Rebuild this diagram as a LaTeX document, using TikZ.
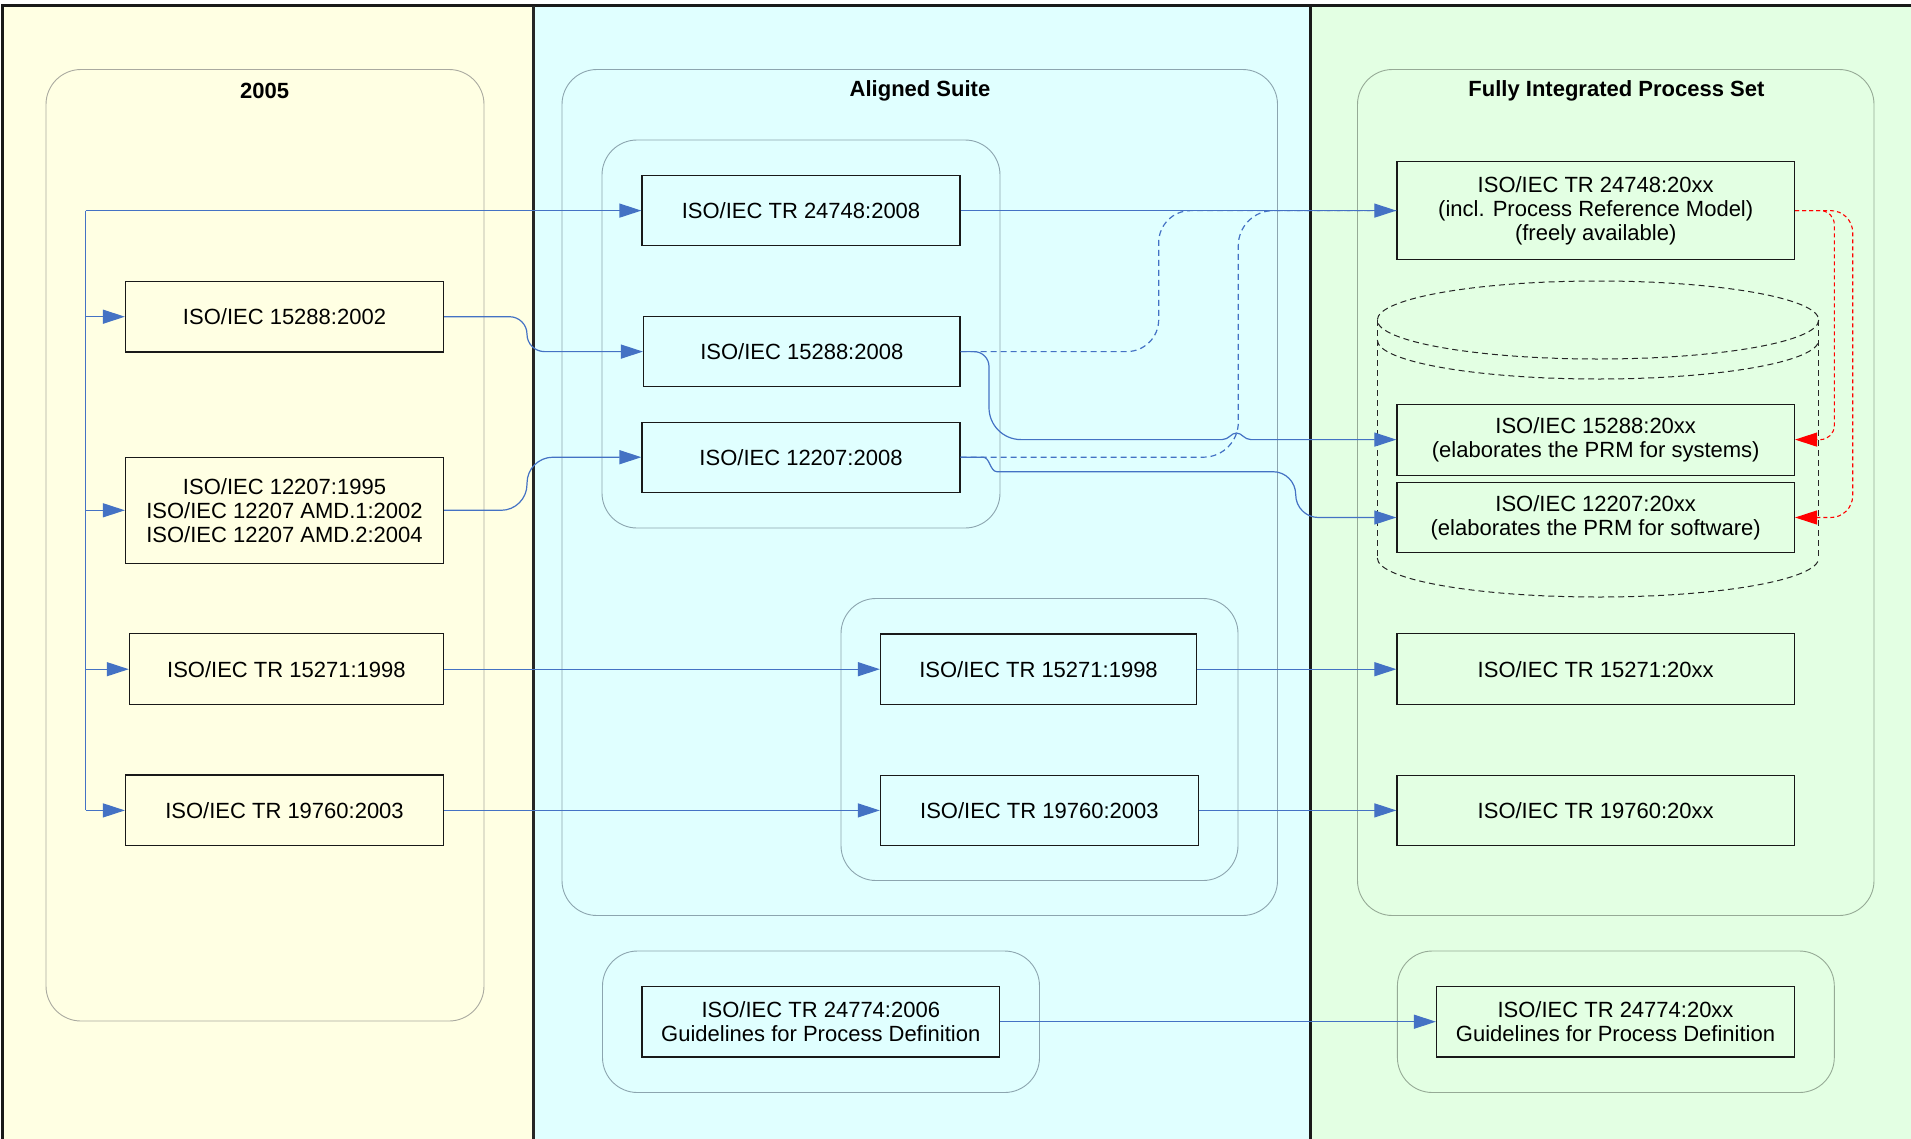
\documentclass[tikz,border=0pt]{standalone}
\usepackage{fontspec}
\setmainfont{Liberation Sans}
\usetikzlibrary{arrows.meta}
\definecolor{pyel}{RGB}{255,255,227}
\definecolor{pcya}{RGB}{224,255,255}
\definecolor{pgrn}{RGB}{227,255,227}
\definecolor{lblue}{RGB}{68,114,196}
\definecolor{cgrayA}{RGB}{170,170,160}
\definecolor{cgrayB}{RGB}{140,165,175}
\definecolor{cgrayC}{RGB}{150,170,150}
\begin{document}
\begin{tikzpicture}[x=1pt,y=-1pt,
  doc/.style={draw=black!90,line width=1.2pt,align=center,inner sep=0pt,font=\fontsize{22}{24}\selectfont},
  grp/.style={line width=0.9pt,rounded corners=35pt},
  ttl/.style={font=\fontsize{22}{24}\selectfont\bfseries,inner sep=0pt},
  conn/.style={draw=lblue,line width=1.2pt},
  arr/.style={conn,-{Triangle[length=22pt,width=14pt]}},
  dconn/.style={conn,dash pattern=on 6pt off 4pt},
  rarr/.style={draw=red,line width=1.1pt,dash pattern=on 4pt off 3pt,-{Triangle[length=22pt,width=14pt]}},
  cyl/.style={draw=black!85,line width=1pt,dash pattern=on 6pt off 4pt}
]
\useasboundingbox (0,0) rectangle (1911,1138);
\fill[white] (0,0) rectangle (1911,1138);
% panels
\fill[pyel] (2.7,5.5) rectangle (533,1140);
\fill[pcya] (533,5.5) rectangle (1310,1140);
\fill[pgrn] (1310,5.5) rectangle (1915,1140);
\draw[black!90,line width=2.6pt] (2.7,1145) -- (2.7,5.5) -- (1915,5.5);
\draw[black!85,line width=3pt] (533,5.5) -- (533,1145);
\draw[black!90,line width=3pt] (1310,5.5) -- (1310,1145);
% containers
\draw[grp,draw=cgrayA] (46,69.5) rectangle (484,1021);
\draw[grp,draw=cgrayB] (562,69.5) rectangle (1277.5,915.5);
\draw[grp,draw=cgrayB] (602,140) rectangle (1000,528);
\draw[grp,draw=cgrayB] (841,598.5) rectangle (1238,880.5);
\draw[grp,draw=cgrayB] (602.5,951) rectangle (1039.5,1092.5);
\draw[grp,draw=cgrayC] (1357.5,69.5) rectangle (1874,915.5);
\draw[grp,draw=cgrayC] (1397.4,951) rectangle (1834.3,1092.5);
% titles
\node[ttl] (t1) at (264.7,91) {2005};
\node[ttl] (t2) at (920,91) {Aligned Suite};
\node[ttl] (t3) at (1616.4,91) {Fully Integrated Process Set};
% cylinder
\draw[cyl] (1598,320) ellipse [x radius=220.7,y radius=39];
\draw[cyl] (1377.3,340) arc[start angle=180,end angle=0,x radius=220.7,y radius=39];
\draw[cyl] (1377.3,320) -- (1377.3,558);
\draw[cyl] (1818.7,320) -- (1818.7,558);
\draw[cyl] (1377.3,558) arc[start angle=180,end angle=0,x radius=220.7,y radius=39];
% left boxes
\node[doc,minimum width=318pt,minimum height=70.5pt] (a1) at (284.5,316.7) {ISO/IEC 15288:2002};
\node[doc,minimum width=318pt,minimum height=106pt] (a2) at (284.5,510.3) {ISO/IEC 12207:1995\\ISO/IEC 12207 AMD.1:2002\\ISO/IEC 12207 AMD.2:2004};
\node[doc,minimum width=314pt,minimum height=71pt] (a3) at (286.4,669.2) {ISO/IEC TR 15271:1998};
\node[doc,minimum width=318pt,minimum height=70.7pt] (a4) at (284.5,810.4) {ISO/IEC TR 19760:2003};
% middle boxes
\node[doc,minimum width=318pt,minimum height=70pt] (m1) at (801,210.6) {ISO/IEC TR 24748:2008};
\node[doc,minimum width=316.5pt,minimum height=70pt] (m2) at (801.8,351.6) {ISO/IEC 15288:2008};
\node[doc,minimum width=318pt,minimum height=70pt] (m3) at (801,457.2) {ISO/IEC 12207:2008};
\node[doc,minimum width=316pt,minimum height=70.5pt] (m4) at (1038.5,669.2) {ISO/IEC TR 15271:1998};
\node[doc,minimum width=318pt,minimum height=70.5pt] (m5) at (1039.4,810.4) {ISO/IEC TR 19760:2003};
\node[doc,minimum width=357.6pt,minimum height=70.6pt] (m6) at (820.8,1021.7) {ISO/IEC TR 24774:2006\\Guidelines for Process Definition};
% right boxes
\node[doc,minimum width=397.5pt,minimum height=98.5pt] (r1) at (1595.7,210.6) {ISO/IEC TR 24748:20xx\\(incl. Process Reference Model)\\(freely available)};
\node[doc,minimum width=397.5pt,minimum height=71pt] (r2) at (1595.7,439.6) {ISO/IEC 15288:20xx\\(elaborates the PRM for systems)};
\node[doc,minimum width=397.5pt,minimum height=70.4pt] (r3) at (1595.7,517.5) {ISO/IEC 12207:20xx\\(elaborates the PRM for software)};
\node[doc,minimum width=397.5pt,minimum height=71pt] (r4) at (1595.7,669.2) {ISO/IEC TR 15271:20xx};
\node[doc,minimum width=397.5pt,minimum height=70.5pt] (r5) at (1595.7,810.4) {ISO/IEC TR 19760:20xx};
\node[doc,minimum width=358pt,minimum height=70.6pt] (r6) at (1615.5,1021.7) {ISO/IEC TR 24774:20xx\\Guidelines for Process Definition};
% feeder
\coordinate (ftop) at (85.7,210.6);
\coordinate (fbot) at (85.7,810.4);
\draw[conn] (ftop) -- (fbot);
\draw[arr] (ftop) -- (m1.west);
\draw[arr] (a1.west -| ftop) -- (a1.west);
\draw[arr] (a2.west -| ftop) -- (a2.west);
\draw[arr] (a3.west -| ftop) -- (a3.west);
\draw[arr] (fbot) -- (a4.west);
% left to middle
\draw[arr] (a1.east) -- (509.5,316.7) .. controls (519.1,316.7) and (527,324.5) .. (527,334.15)
  .. controls (527,343.8) and (534.8,351.6) .. (544.5,351.6) -- (m2.west);
\draw[arr] (a2.east) -- (501,510.3) .. controls (515.4,510.3) and (527,498.7) .. (527,484.3)
  -- (527,483.2) .. controls (527,468.8) and (538.6,457.2) .. (553,457.2) -- (m3.west);
\draw[arr] (a3.east) -- (m4.west);
\draw[arr] (a4.east) -- (m5.west);
% middle to right
\draw[dconn] (m2.east) -- (1126.7,351.6) .. controls (1144.4,351.6) and (1158.7,337.3) .. (1158.7,319.6)
  -- (1158.7,242.6) .. controls (1158.7,224.9) and (1173,210.6) .. (1190.7,210.6) -- (r1.west);
\draw[dconn] (m3.east) -- (1203.3,457.2) .. controls (1222.6,457.2) and (1238.3,441.5) .. (1238.3,422.2)
  -- (1238.3,245.6) .. controls (1238.3,226.3) and (1254,210.6) .. (1273.3,210.6) -- (r1.west);
\draw[arr] (m1.east) -- (r1.west);
\draw[arr] (m2.east) -- (974,351.6) .. controls (982.3,351.6) and (989,358.3) .. (989,366.6)
  -- (989,407.6) .. controls (989,425.3) and (1003.3,439.6) .. (1021,439.6)
  -- (1222,439.6) .. controls (1229,439.6) and (1231,433) .. (1236.5,433)
  .. controls (1242,433) and (1244,439.6) .. (1251,439.6) -- (r2.west);
\draw[arr] (m3.east) -- (983,457.2) .. controls (990,457.2) and (990,471.7) .. (997,471.7)
  -- (1273,471.7) .. controls (1285.5,471.7) and (1295.7,481.9) .. (1295.7,494.6)
  .. controls (1295.7,507.3) and (1305.9,517.5) .. (1318.4,517.5) -- (r3.west);
\draw[arr] (m4.east) -- (r4.west);
\draw[arr] (m5.east) -- (r5.west);
\draw[arr] (m6.east) -- (r6.west);
% red
\draw[rarr,rounded corners=14pt] (r1.east) -- (1834.3,210.6) -- (1834.3,439.6) -- (r2.east);
\draw[rarr,rounded corners=22pt] (r1.east) -- (1852.7,210.6) -- (1852.7,517.5) -- (r3.east);
\end{tikzpicture}
\end{document}
